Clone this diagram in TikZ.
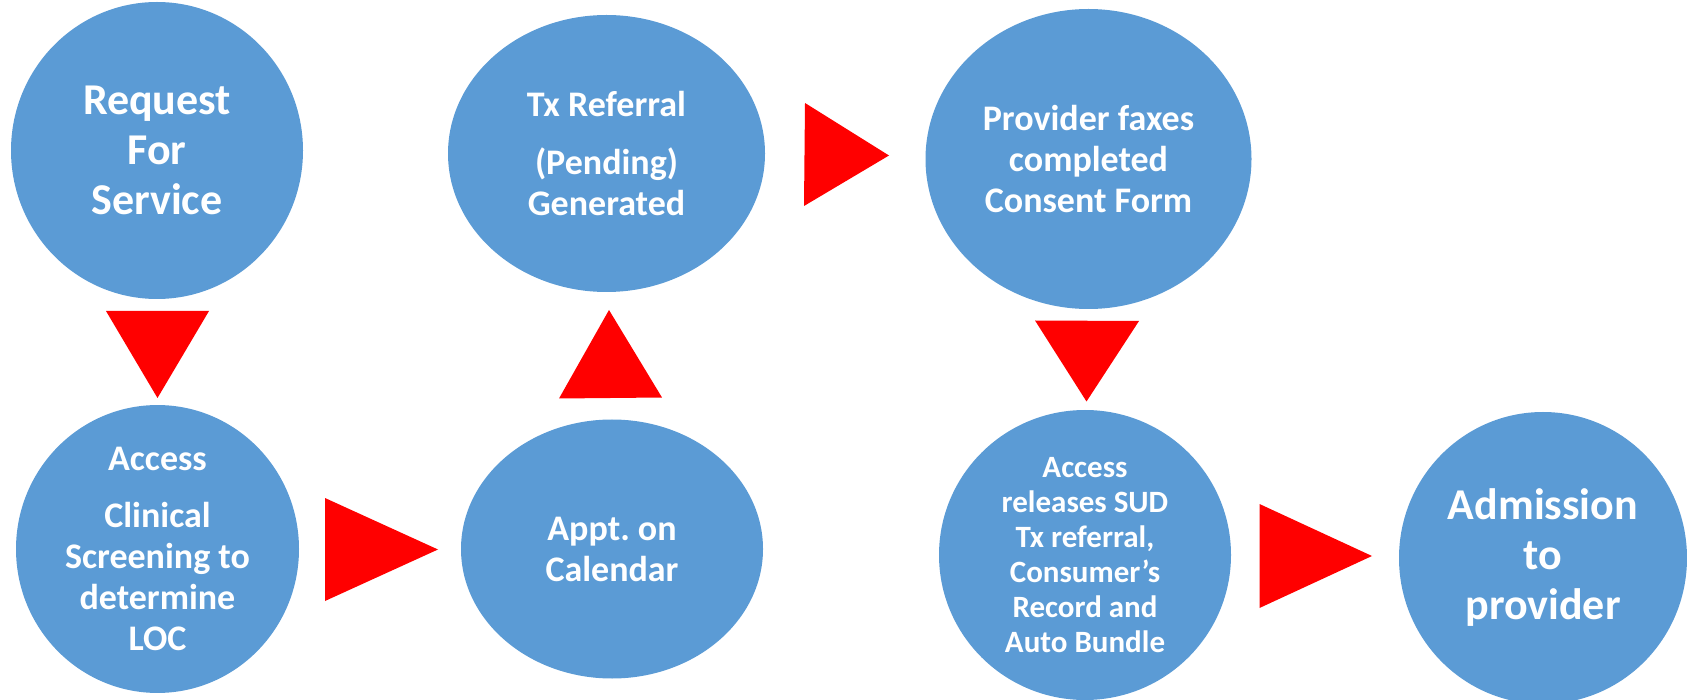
\documentclass[tikz,border=0pt]{standalone}
\usepackage{fontspec}
\setmainfont{Carlito}
\frenchspacing
\usetikzlibrary{shapes.geometric}

\definecolor{stepblue}{HTML}{5B9BD5}
\definecolor{flowred}{HTML}{FF0000}

\tikzset{
  stepbox/.style={ellipse, fill=stepblue, draw=none, inner sep=0pt,
    text=white, align=center, font=\bfseries},
  flowarrow/.style={fill=flowred, draw=none},
  bigtext/.style={font=\bfseries\fontsize{44}{50}\selectfont},
  midtext/.style={font=\bfseries\fontsize{36}{41}\selectfont},
  smalltext/.style={font=\bfseries\fontsize{31}{35}\selectfont}
}

\begin{document}
\begin{tikzpicture}[x=1pt, y=-1pt]
  \useasboundingbox (0,0) rectangle (1687,700);

  % process steps
  \node[stepbox, bigtext, minimum width=292pt, minimum height=297pt]
    (request) at (157,150.5) {Request\\For\\Service};
  \node[stepbox, midtext, minimum width=317pt, minimum height=277pt]
    (referral) at (606.5,153.5) {Tx Referral\\[17pt](Pending)\\Generated};
  \node[stepbox, midtext, minimum width=326pt, minimum height=300pt]
    (consent) at (1088.5,159) {Provider faxes\\completed\\Consent Form};
  \node[stepbox, midtext, minimum width=283pt, minimum height=280pt]
    (screening) at (157.5,549) {Access\\[16pt]Clinical\\Screening to\\determine\\LOC};
  \node[stepbox, midtext, minimum width=302pt, minimum height=259pt]
    (appt) at (612,549) {Appt. on\\Calendar};
  \node[stepbox, smalltext, minimum width=292pt, minimum height=290pt]
    (release) at (1085,555) {Access\\releases SUD\\Tx referral,\\Consumer’s\\Record and\\Auto Bundle};
  \node[stepbox, bigtext, minimum width=288pt, minimum height=292pt]
    (admission) at (1543,558) {Admission\\to\\provider};

  % flow arrows between the steps
  \fill[flowarrow] (106,311) -- (209,311) -- (157.5,398) -- cycle;
  \fill[flowarrow] (325,498) -- (325,601) -- (438,549.5) -- cycle;
  \fill[flowarrow] (559,398.5) -- (662,397.5) -- (609,310) -- cycle;
  \fill[flowarrow] (805,103) -- (804,206) -- (889,155.5) -- cycle;
  \fill[flowarrow] (1035,320.5) -- (1139,321) -- (1086.5,401.5) -- cycle;
  \fill[flowarrow] (1259.5,504) -- (1259.5,608) -- (1372,556) -- cycle;
\end{tikzpicture}
\end{document}
